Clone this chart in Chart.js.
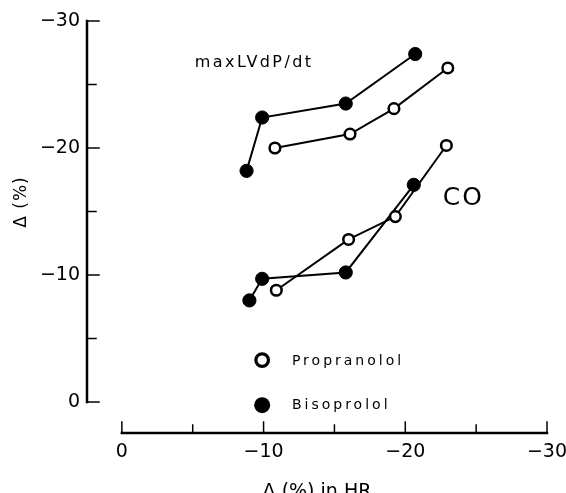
<!DOCTYPE html>
<html>
<head>
<meta charset="utf-8">
<script src="https://cdn.jsdelivr.net/npm/chart.js@4"></script>
<style>
  html, body { margin: 0; padding: 0; background: #fff; }
</style>
</head>
<body>
<canvas id="chart" width="566" height="493"></canvas>
<script>
// change in HR (x) and change in variable (y)
const lvHrProp = [-10.8, -16.1, -19.2, -23.0];
const lvProp   = [-20.0, -21.1, -23.1, -26.3];
const lvHrBiso = [-8.8, -9.9, -15.8, -20.7];
const lvBiso   = [-18.2, -22.4, -23.5, -27.4];

const coHrProp = [-10.9, -16.0, -19.3, -22.9];
const coProp   = [-8.8, -12.8, -14.6, -20.2];
const coHrBiso = [-9.0, -9.9, -15.8, -20.6];
const coBiso   = [-8.0, -9.7, -10.2, -17.1];

const xTicks = [0, -5, -10, -15, -20, -25, -30];
const yTicks = [0, -5, -10, -15, -20, -25, -30];

const FONT = "'DejaVu Sans', sans-serif";
const ctx = document.getElementById('chart').getContext('2d');

function pts(xs, ys) {
  return xs.map((x, i) => ({ x, y: ys[i] }));
}

function tickLabel(v) {
  if (v % 10 !== 0) return '';
  return v < 0 ? '\u2212' + Math.abs(v) : '0';
}

const openStyle = {
  borderColor: '#000', borderWidth: 2,
  pointRadius: 5.3, pointBorderWidth: 2.5,
  pointBackgroundColor: '#fff', pointBorderColor: '#000'
};
const fillStyle = {
  borderColor: '#000', borderWidth: 2,
  pointRadius: 6.6, pointBorderWidth: 1,
  pointBackgroundColor: '#000', pointBorderColor: '#000'
};

// axis lines, inward tick marks and the free text labels
const extras = {
  id: 'extras',
  beforeDatasetsDraw(chart) {
    const { ctx, chartArea, scales: { x, y } } = chart;
    ctx.save();
    ctx.strokeStyle = '#000';
    ctx.lineWidth = 2.5;
    ctx.lineCap = 'square';

    const ax = chartArea.left;
    ctx.beginPath();
    ctx.moveTo(ax, y.getPixelForValue(-30));
    ctx.lineTo(ax, y.getPixelForValue(0));
    ctx.stroke();
    ctx.lineWidth = 1.5;
    yTicks.forEach(v => {
      const py = y.getPixelForValue(v);
      ctx.beginPath();
      ctx.moveTo(ax, py);
      ctx.lineTo(ax + (v % 10 === 0 ? 12 : 9), py);
      ctx.stroke();
    });

    const ay = chartArea.bottom;
    ctx.lineWidth = 2.5;
    ctx.beginPath();
    ctx.moveTo(x.getPixelForValue(0), ay);
    ctx.lineTo(x.getPixelForValue(-30), ay);
    ctx.stroke();
    ctx.lineWidth = 1.5;
    xTicks.forEach(v => {
      const px = x.getPixelForValue(v);
      ctx.beginPath();
      ctx.moveTo(px, ay);
      ctx.lineTo(px, ay - (v % 10 === 0 ? 11 : 8));
      ctx.stroke();
    });
    ctx.restore();
  },
  afterDraw(chart) {
    const { ctx, scales: { x, y } } = chart;
    ctx.save();
    ctx.fillStyle = '#000';
    ctx.textBaseline = 'middle';

    ctx.font = '16px ' + FONT;
    ctx.letterSpacing = '2.4px';
    ctx.fillText('maxLVdP/dt', x.getPixelForValue(-5.15), y.getPixelForValue(-26.7));

    ctx.font = '25px ' + FONT;
    ctx.letterSpacing = '2px';
    ctx.fillText('CO', x.getPixelForValue(-22.65), y.getPixelForValue(-16.0));

    // legend
    const lx = x.getPixelForValue(-9.9);
    const tx = x.getPixelForValue(-12.0);
    const ly1 = y.getPixelForValue(-3.3);
    const ly2 = y.getPixelForValue(0.25);
    ctx.beginPath();
    ctx.arc(lx, ly1, 6.3, 0, Math.PI * 2);
    ctx.fillStyle = '#fff';
    ctx.fill();
    ctx.lineWidth = 3.2;
    ctx.strokeStyle = '#000';
    ctx.stroke();
    ctx.beginPath();
    ctx.arc(lx, ly2, 8, 0, Math.PI * 2);
    ctx.fillStyle = '#000';
    ctx.fill();

    ctx.font = '14px ' + FONT;
    ctx.letterSpacing = '3px';
    ctx.fillText('Propranolol', tx, ly1 + 1);
    ctx.fillText('Bisoprolol', tx, ly2);

    // y axis title
    ctx.letterSpacing = '1px';
    ctx.font = '17px ' + FONT;
    ctx.translate(22, y.getPixelForValue(-15.75));
    ctx.rotate(-Math.PI / 2);
    ctx.textAlign = 'center';
    ctx.fillText('\u0394 (%)', 0, 0);
    ctx.restore();
  }
};

const chart = new Chart(ctx, {
  type: 'line',
  data: {
    datasets: [
      { label: 'Propranolol maxLVdP/dt', data: pts(lvHrProp, lvProp), ...openStyle },
      { label: 'Propranolol CO', data: pts(coHrProp, coProp), ...openStyle },
      { label: 'Bisoprolol maxLVdP/dt', data: pts(lvHrBiso, lvBiso), ...fillStyle },
      { label: 'Bisoprolol CO', data: pts(coHrBiso, coBiso), ...fillStyle }
    ]
  },
  options: {
    responsive: false,
    animation: false,
    layout: { padding: { left: 0, right: 19, top: 21, bottom: 0 } },
    plugins: { legend: { display: false }, tooltip: { enabled: false } },
    elements: { line: { tension: 0 } },
    scales: {
      x: {
        type: 'linear',
        reverse: true,
        min: -30,
        max: 2.46,
        grid: { display: false, drawTicks: false },
        border: { display: false },
        afterBuildTicks: s => { s.ticks = xTicks.map(v => ({ value: v })); },
        afterFit: s => { s.height = 60; s.paddingRight = 0; s.paddingLeft = 0; },
        ticks: {
          autoSkip: false, maxRotation: 0, padding: 8, color: '#000',
          font: { family: FONT, size: 19 },
          callback: v => tickLabel(v)
        },
        title: {
          display: true, text: '\u0394 (%) in HR', color: '#000',
          font: { family: FONT, size: 19 },
          padding: { top: 0, bottom: -10 }
        }
      },
      y: {
        type: 'linear',
        reverse: true,
        min: -30,
        max: 2.44,
        grid: { display: false, drawTicks: false },
        border: { display: false },
        afterBuildTicks: s => { s.ticks = yTicks.map(v => ({ value: v })); },
        afterFit: s => { s.width = 87; },
        ticks: {
          autoSkip: false, padding: 7, color: '#000',
          font: { family: FONT, size: 19 },
          callback: v => tickLabel(v)
        }
      }
    }
  },
  plugins: [extras]
});
</script>
</body>
</html>
